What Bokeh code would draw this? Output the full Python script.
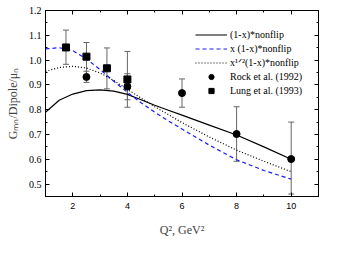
from bokeh.plotting import figure
from bokeh.models import (LinearAxis, Whisker, ColumnDataSource, Legend, LegendItem,
                          Range1d, FixedTicker, CustomJSTickFormatter, PrintfTickFormatter)
from bokeh.embed import file_html
from bokeh.resources import INLINE

# curves
q2_curve = [1.0, 1.5, 2.0, 2.5, 3.0, 3.5, 4.0, 4.5, 5.0, 5.5, 6.0, 7.0, 8.0, 9.0, 10.0]
nonflip = [0.79, 0.838, 0.863, 0.877, 0.88, 0.875, 0.862, 0.84, 0.818, 0.798, 0.778, 0.738, 0.698, 0.65, 0.60]
x_nonflip = [1.045, 1.05, 1.038, 1.005, 0.962, 0.915, 0.87, 0.828, 0.79, 0.755, 0.722, 0.657, 0.598, 0.555, 0.52]
sqrtx_nonflip = [0.955, 0.97, 0.975, 0.968, 0.948, 0.918, 0.882, 0.847, 0.812, 0.78, 0.748, 0.69, 0.637, 0.592, 0.55]

# data
rock_q2 = [2.5, 4.0, 6.0, 8.0, 10.0]
rock_g = [0.932, 0.893, 0.867, 0.702, 0.601]
rock_up = [0.955, 0.945, 0.924, 0.812, 0.75]
rock_lo = [0.91, 0.81, 0.81, 0.592, 0.46]

lung_q2 = [1.75, 2.5, 3.25, 4.0]
lung_g = [1.051, 1.014, 0.967, 0.922]
lung_up = [1.121, 1.071, 1.049, 1.035]
lung_lo = [0.983, 0.94, 0.884, 0.84]

x_ticks = [2, 4, 6, 8, 10]
y_ticks = [0.5, 0.6, 0.7, 0.8, 0.9, 1.0, 1.1, 1.2]

p = figure(width=330, height=253, output_backend="svg", toolbar_location=None,
           x_range=Range1d(1, 11), y_range=Range1d(0.45, 1.2),
           min_border_left=45, min_border_top=10, min_border_right=12, min_border_bottom=57)
p.xgrid.visible = False
p.ygrid.visible = False
p.outline_line_color = "black"
p.background_fill_color = "white"
p.border_fill_color = "white"

def style(ax, labels=True, serif=False):
    ax.axis_line_color = "black"
    ax.major_tick_in = 4
    ax.major_tick_out = 0
    ax.minor_tick_in = 2
    ax.minor_tick_out = 0
    ax.major_tick_line_color = "black"
    ax.minor_tick_line_color = "black"
    ax.major_label_text_font = "Liberation Serif" if serif else "Liberation Sans"
    ax.major_label_text_font_size = "9px"
    ax.major_label_text_color = "black"
    if not labels:
        ax.formatter = CustomJSTickFormatter(code="return ''")
        ax.major_label_standoff = 0

x_minor = [1, 3, 5, 7, 9, 11]
y_minor = [0.45, 0.55, 0.65, 0.75, 0.85, 0.95, 1.05, 1.15]

xa = p.xaxis[0]
xa.ticker = FixedTicker(ticks=x_ticks, minor_ticks=x_minor)
style(xa)
xa.major_label_standoff = 6
xa.axis_label = "Q², GeV²"
xa.axis_label_text_font = "Liberation Serif"
xa.axis_label_text_font_style = "normal"
xa.axis_label_text_font_size = "12px"
xa.axis_label_standoff = 11

ya = p.yaxis[0]
ya.ticker = FixedTicker(ticks=y_ticks, minor_ticks=y_minor)
style(ya, serif=True)
ya.formatter = PrintfTickFormatter(format="%.1f")
ya.major_label_text_font_size = "10px"
ya.major_label_standoff = 4
ya.axis_label = "Gₘₙ/Dipole/μₙ"
ya.axis_label_text_font = "Liberation Serif"
ya.axis_label_text_font_style = "normal"
ya.axis_label_text_font_size = "12px"
ya.axis_label_standoff = 6

top = LinearAxis(ticker=FixedTicker(ticks=x_ticks, minor_ticks=x_minor))
style(top, labels=False)
p.add_layout(top, "above")
right = LinearAxis(ticker=FixedTicker(ticks=y_ticks, minor_ticks=y_minor))
style(right, labels=False)
p.add_layout(right, "right")

l1 = p.line(q2_curve, nonflip, line_color="black", line_width=1.2)
l2 = p.line(q2_curve, x_nonflip, line_color="#1a1aff", line_width=1.2, line_dash="4 3")
l3 = p.line(q2_curve, sqrtx_nonflip, line_color="black", line_width=1.2, line_dash="1 2")

rsrc = ColumnDataSource(dict(x=rock_q2, y=rock_g, up=rock_up, lo=rock_lo))
lsrc = ColumnDataSource(dict(x=lung_q2, y=lung_g, up=lung_up, lo=lung_lo))
for src in (rsrc, lsrc):
    w = Whisker(source=src, base="x", upper="up", lower="lo", line_color="#666666", line_width=1)
    w.upper_head.size = 6
    w.lower_head.size = 6
    w.upper_head.line_color = "#666666"
    w.lower_head.line_color = "#666666"
    p.add_layout(w)

r1 = p.scatter("x", "y", source=rsrc, marker="circle", size=7, fill_color="black", line_color="black")
r2 = p.scatter("x", "y", source=lsrc, marker="square", size=7, fill_color="black", line_color="black")

legend = Legend(items=[
    LegendItem(label="(1-x)*nonflip", renderers=[l1]),
    LegendItem(label="x (1-x)*nonflip", renderers=[l2]),
    LegendItem(label="x¹ᐟ²(1-x)*nonflip", renderers=[l3]),
    LegendItem(label="Rock et al. (1992)", renderers=[r1]),
    LegendItem(label="Lung et al. (1993)", renderers=[r2]),
], location=(150, 99))
legend.border_line_color = None
legend.background_fill_alpha = 0
legend.padding = 0
legend.margin = 0
legend.spacing = 1
legend.glyph_width = 32
legend.glyph_height = 13
legend.label_height = 13
legend.label_standoff = 3
legend.label_text_font = "Liberation Serif"
legend.label_text_font_size = "10px"
legend.label_text_color = "black"
p.add_layout(legend, "center")

open("out.html", "w").write(file_html(p, INLINE))
